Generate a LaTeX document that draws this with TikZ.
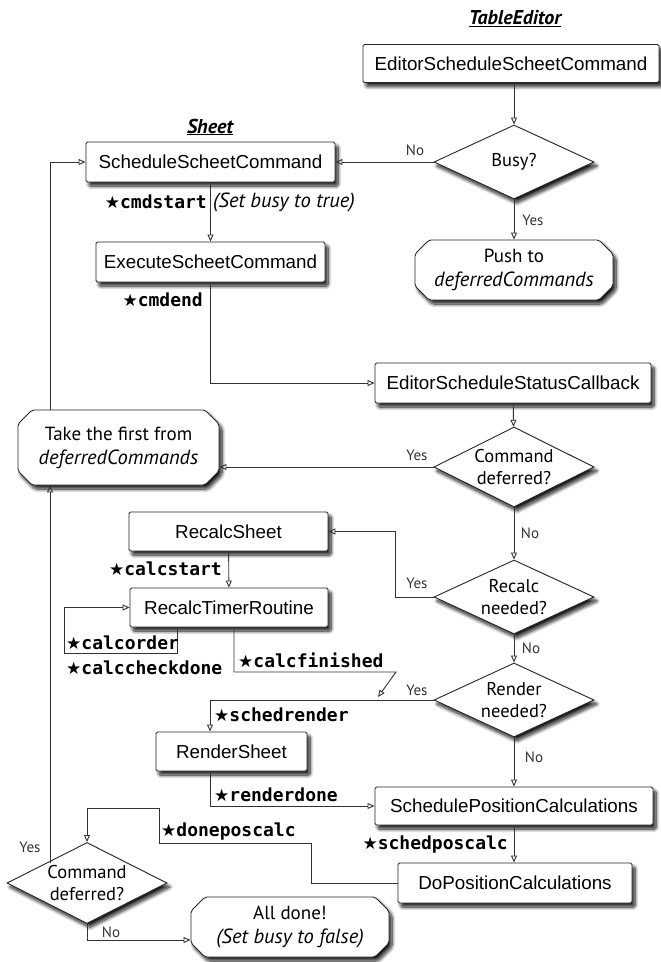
\documentclass[tikz,border=0pt]{standalone}
\usepackage{fontspec}
\setmainfont{Liberation Sans}
\newfontfamily\humfont{PT Sans}
\newfontfamily\codefont{DejaVu Sans Mono}
\newfontfamily\symfont{DejaVu Sans}
\usetikzlibrary{arrows.meta,shapes.geometric,shapes.misc,shadows.blur}

% black star that precedes every event name
\newcommand\starmark{{\symfont\fontsize{17}{20}\selectfont ★}}
% wider italic for the emphasised words
\newcommand\emword[1]{{\itshape\fontsize{20.5}{23}\selectfont #1}}

\tikzset{
  softshadow/.style={blur shadow={shadow xshift=3pt, shadow yshift=-4pt,
      shadow blur radius=3.5pt, shadow blur steps=10, shadow opacity=90}},
  procbox/.style={rectangle, draw=black!85, line width=0.9pt, fill=white,
      rounded corners=1.5pt, inner sep=0pt, softshadow,
      font=\fontsize{18.8}{22}\selectfont},
  softbox/.style={chamfered rectangle, chamfered rectangle xsep=7pt,
      chamfered rectangle ysep=7pt, rounded corners=2pt, draw=black!85,
      line width=0.9pt, fill=white, inner sep=0pt, align=center, softshadow,
      font=\humfont\fontsize{19}{24}\selectfont},
  decision/.style={diamond, aspect=2.1, draw=black!85, line width=0.9pt,
      fill=white, inner sep=0pt, minimum width=160pt, minimum height=76pt,
      align=center, softshadow, font=\humfont\fontsize{18.5}{21.5}\selectfont},
  branch/.style={font=\humfont\fontsize{15}{18}\selectfont, text=black!80,
      inner sep=0pt},
  code/.style={font=\codefont\bfseries\fontsize{18}{21}\selectfont,
      inner sep=0pt},
  note/.style={font=\humfont\itshape\fontsize{20.5}{23}\selectfont,
      inner sep=0pt},
  heading/.style={font=\humfont\bfseries\itshape\fontsize{20}{23}\selectfont,
      inner sep=0pt},
  arr/.style={draw=black!80, line width=0.9pt,
      -{Triangle[open, length=7pt, width=6pt]}},
}

\begin{document}
\begin{tikzpicture}[x=1pt, y=-1pt]
\useasboundingbox (0,0) rectangle (661,962);

% column headings
\node[heading] (hTE) at (515,19) {\underline{TableEditor}};
\node[heading] (hSheet) at (210,127) {\underline{Sheet}};

% process boxes
\node[procbox, minimum width=296pt, minimum height=38pt] (esc)  at (511,63.5) {EditorScheduleScheetCommand};
\node[procbox, minimum width=249pt, minimum height=40pt] (ssc)  at (210.5,162) {ScheduleScheetCommand};
\node[procbox, minimum width=229pt, minimum height=40pt] (exe)  at (210.5,262) {ExecuteScheetCommand};
\node[procbox, minimum width=276pt, minimum height=40pt] (esc2) at (513,383) {EditorScheduleStatusCallback};
\node[procbox, minimum width=199pt, minimum height=39pt] (rs)   at (228.5,531.5) {RecalcSheet};
\node[procbox, minimum width=198pt, minimum height=39pt] (rtr)  at (229,607.5) {RecalcTimerRoutine};
\node[procbox, minimum width=151pt, minimum height=39pt] (rsh)  at (231.5,751.5) {RenderSheet};
\node[procbox, minimum width=278pt, minimum height=38pt] (spc)  at (514,806) {SchedulePositionCalculations};
\node[procbox, minimum width=234pt, minimum height=40pt] (dpc)  at (515,883) {DoPositionCalculations};

% terminal boxes
\node[softbox, minimum width=198pt, minimum height=60pt] (push) at (514,270) {Push to\\\emword{deferredCommands}};
\node[softbox, minimum width=201pt, minimum height=75pt] (take) at (118.5,447.5) {Take the first from\\\emword{deferredCommands}};
\node[softbox, minimum width=198pt, minimum height=60pt] (done) at (290,927) {All done!\\\emword{(Set busy to false)}};

% decisions
\node[decision, minimum height=74pt] (busy) at (514,162) {Busy?};
\node[decision, minimum height=80pt] (cd1)  at (514,467) {Command\\deferred?};
\node[decision, minimum height=74pt] (rn)   at (514,597) {Recalc\\needed?};
\node[decision, minimum height=74pt] (rnd)  at (514,700) {Render\\needed?};
\node[decision, minimum height=81pt] (cd2)  at (87,883) {Command\\deferred?};

% helper coordinates for the routed connectors
\coordinate (xl) at (50,0);
\coordinate (xm) at (210,0);
\coordinate (cl) at (64,653);
\coordinate (cf1) at (396,672);
\coordinate (cf2) at (378,697);
\coordinate (d1) at (159,843);
\coordinate (d2) at (87,808);

% connectors
\draw[arr] (busy.north |- esc.south) -- (busy.north);
\draw[arr] (busy) -- (ssc);
\draw[arr] (busy) -- (push);
\draw[arr] (take.north -| xl) |- (ssc.west);
\draw[arr] (ssc) -- (exe);
\draw[arr] (exe.south) |- (esc2.west);
\draw[arr] (esc2) -- (cd1);
\draw[arr] (cd1.west) -- (cd1.west -| take.east);
\draw[arr] (cd1) -- (rn);
\draw[arr] (rn.west) -- ++(-38,0) |- (rs.east);
\draw[arr] (rs) -- (rtr);
\draw[arr] ([xshift=-52pt]rtr.south) |- (cl) |- (rtr.west);
\draw[arr] ([xshift=5pt]rtr.south) |- (cf1) -- (cf2);
\draw[arr] (rn) -- (rnd);
\draw[arr] (rnd.west) -| (rsh.north -| xm);
\draw[arr] (rsh.south -| xm) |- (spc.west);
\draw[arr] (rnd) -- (spc);
\draw[arr] (spc.south) -- (spc.south |- dpc.north);
\draw[arr] (dpc.west) -- ++(-86,0) |- (d1) |- (d2) -- (cd2.north);
\draw[arr] (cd2.north west -| xl) -- (take.south -| xl);
\draw[arr] (cd2.south) |- ([yshift=-13pt]done.west);

% branch labels
\node[branch] (lbusyno)  at (415,150) {No};
\node[branch] (lbusyyes) at (533,220) {Yes};
\node[branch] (lcd1yes)  at (417,455) {Yes};
\node[branch] (lcd1no)   at (530,533) {No};
\node[branch] (lrnyes)   at (417,583) {Yes};
\node[branch] (lrnno)    at (531,648) {No};
\node[branch] (lrndyes)  at (417,690) {Yes};
\node[branch] (lrndno)   at (534,757) {No};
\node[branch] (lcd2yes)  at (30,847)  {Yes};
\node[branch] (lcd2no)   at (111,932) {No};

% event markers
\node[code, anchor=east] (ecmdstart) at (207,202) {\starmark cmdstart};
\node[note, anchor=west] (nbusy) at (213,202) {(Set busy to true)};
\node[code, anchor=east] (ecmdend) at (203,300) {\starmark cmdend};
\node[code, anchor=east] (ecalcstart) at (222,569) {\starmark calcstart};
\node[code, anchor=west] (ecalcorder) at (66,643) {\starmark calcorder};
\node[code, anchor=west] (ecalccheck) at (66,668) {\starmark calccheckdone};
\node[code, anchor=west] (ecalcfin) at (238,660) {\starmark calcfinished};
\node[code, anchor=west] (eschedrender) at (214,715) {\starmark schedrender};
\node[code, anchor=west] (erenderdone) at (214,795) {\starmark renderdone};
\node[code, anchor=west] (edoneposcalc) at (161,832) {\starmark doneposcalc};
\node[code, anchor=east] (eschedposcalc) at (508,845) {\starmark schedposcalc};
\end{tikzpicture}
\end{document}
